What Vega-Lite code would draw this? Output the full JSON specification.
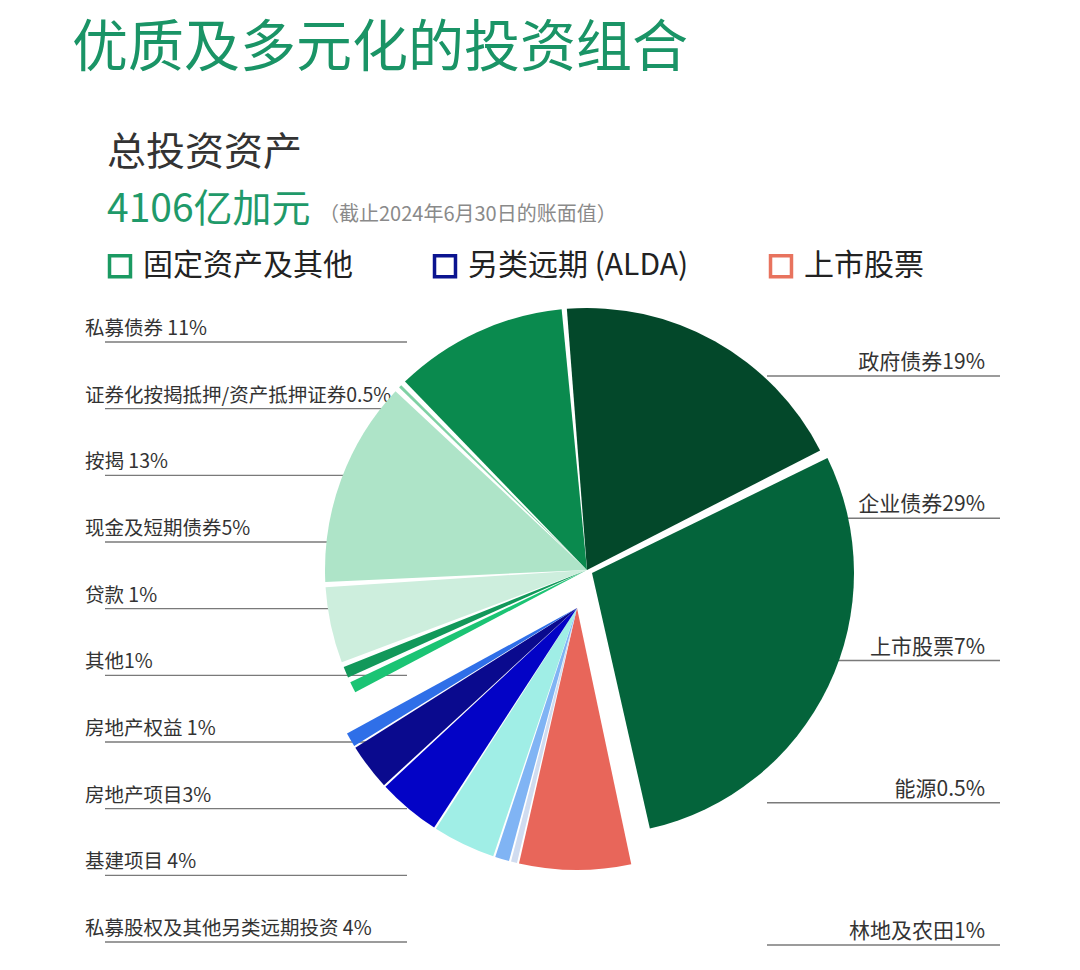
{
  "$schema": "https://vega.github.io/schema/vega-lite/v6.json",
  "background": "white",
  "padding": {"left": 72, "top": 21, "right": 5, "bottom": 5},
  "config": {"font": "Noto Sans CJK SC", "view": {"stroke": null}},
  "title": {
    "text": "优质及多元化的投资组合",
    "anchor": "start",
    "dx": -13,
    "color": "#1a9466",
    "fontSize": 56,
    "fontWeight": "normal",
    "offset": 56
  },
  "vconcat": [
    {
      "title": {
        "text": "总投资资产",
        "subtitle": "4106亿加元",
        "anchor": "start",
        "dx": 22,
        "color": "#333333",
        "fontSize": 39,
        "fontWeight": "normal",
        "subtitleColor": "#1f9a6a",
        "subtitleFontSize": 39,
        "subtitleFontWeight": "normal",
        "subtitlePadding": 18,
        "offset": -25
      },
      "vconcat": [
        {
          "width": 964,
          "height": 638,
          "title": {
            "text": "（截止2024年6月30日的账面值）",
            "anchor": "start",
            "dx": 234,
            "color": "#8a8a8a",
            "fontSize": 20,
            "fontWeight": "normal",
            "offset": 26
          },
          "data": {
            "values": [
              {"idx": 1, "name": "政府债券", "label": "政府债券19%", "value": 19, "group": "固定资产及其他"},
              {"idx": 2, "name": "企业债券", "label": "企业债券29%", "value": 29, "group": "固定资产及其他"},
              {"idx": 3, "name": "上市股票", "label": "上市股票7%", "value": 7, "group": "上市股票"},
              {"idx": 4, "name": "能源", "label": "能源0.5%", "value": 0.5, "group": "另类远期 (ALDA)"},
              {"idx": 5, "name": "林地及农田", "label": "林地及农田1%", "value": 1, "group": "另类远期 (ALDA)"},
              {"idx": 6, "name": "私募股权及其他另类远期投资", "label": "私募股权及其他另类远期投资 4%", "value": 4, "group": "另类远期 (ALDA)"},
              {"idx": 7, "name": "基建项目", "label": "基建项目 4%", "value": 4, "group": "另类远期 (ALDA)"},
              {"idx": 8, "name": "房地产项目", "label": "房地产项目3%", "value": 3, "group": "另类远期 (ALDA)"},
              {"idx": 9, "name": "房地产权益", "label": "房地产权益 1%", "value": 1, "group": "另类远期 (ALDA)"},
              {"idx": 10, "name": "其他", "label": "其他1%", "value": 1, "group": "固定资产及其他"},
              {"idx": 11, "name": "贷款", "label": "贷款 1%", "value": 1, "group": "固定资产及其他"},
              {"idx": 12, "name": "现金及短期债券", "label": "现金及短期债券5%", "value": 5, "group": "固定资产及其他"},
              {"idx": 13, "name": "按揭", "label": "按揭 13%", "value": 13, "group": "固定资产及其他"},
              {"idx": 14, "name": "证券化按揭抵押/资产抵押证券", "label": "证券化按揭抵押/资产抵押证券0.5%", "value": 0.5, "group": "固定资产及其他"},
              {"idx": 15, "name": "私募债券", "label": "私募债券 11%", "value": 11, "group": "固定资产及其他"}
            ]
          },
          "transform": [
            {"stack": "value", "groupby": [], "sort": [{"field": "idx", "order": "ascending"}], "as": ["v0", "v1"]}
          ],
          "layer": [
            {
              "transform": [{"filter": "datum.idx >= 6"}],
              "layer": [
                {
                  "mark": {"type": "rule", "x": 0, "x2": {"expr": "width/2 - 180"}, "color": "#7a7a7a", "strokeWidth": 1.3},
                  "encoding": {
                    "y": {"field": "idx", "type": "ordinal", "sort": "descending", "scale": {"type": "point", "range": [91, 691], "padding": 0}, "axis": null}
                  }
                },
                {
                  "mark": {"type": "text", "x": 0, "dx": -20, "align": "left", "baseline": "bottom", "dy": -3, "fontSize": 19.5, "color": "#333333"},
                  "encoding": {
                    "y": {"field": "idx", "type": "ordinal", "sort": "descending", "scale": {"type": "point", "range": [91, 691], "padding": 0}, "axis": null},
                    "text": {"field": "label"}
                  }
                }
              ]
            },
            {
              "transform": [{"filter": "datum.idx <= 5"}],
              "layer": [
                {
                  "mark": {"type": "rule", "x": {"expr": "width/2 + 180"}, "x2": {"expr": "width - 69"}, "color": "#7a7a7a", "strokeWidth": 1.3},
                  "encoding": {
                    "y": {"field": "idx", "type": "ordinal", "sort": "ascending", "scale": {"type": "point", "range": [125, 694], "padding": 0}, "axis": null}
                  }
                },
                {
                  "mark": {"type": "text", "x": "width", "dx": -84, "align": "right", "baseline": "bottom", "dy": -3, "fontSize": 21, "color": "#333333"},
                  "encoding": {
                    "y": {"field": "idx", "type": "ordinal", "sort": "ascending", "scale": {"type": "point", "range": [125, 694], "padding": 0}, "axis": null},
                    "text": {"field": "label"}
                  }
                }
              ]
            },
            {
              "transform": [{"filter": "datum.group === '固定资产及其他' && datum.idx !== 2"}],
              "mark": {"type": "arc", "outerRadius": 262, "padAngle": 0.02, "strokeOpacity": 0},
              "encoding": {
                "theta": {"field": "v0", "type": "quantitative", "scale": {"domain": [0, 100], "range": [-0.087, 6.1962]}},
                "theta2": {"field": "v1"},
                "fill": {"field": "name", "type": "nominal", "legend": null,
                  "scale": {
                    "domain": ["政府债券", "企业债券", "上市股票", "能源", "林地及农田", "私募股权及其他另类远期投资", "基建项目", "房地产项目", "房地产权益", "其他", "贷款", "现金及短期债券", "按揭", "证券化按揭抵押/资产抵押证券", "私募债券"],
                    "range": ["#03482a", "#04643b", "#e8665a", "#d0dcf0", "#80b4f4", "#a0eee6", "#0303c6", "#0a0a8e", "#2f6fe8", "#1bc474", "#12985a", "#cdeedd", "#aee4c8", "#7fd1a4", "#0a8a4e"]
                  }
                },
                "stroke": {"field": "group", "type": "nominal",
                  "scale": {"domain": ["固定资产及其他", "另类远期 (ALDA)", "上市股票"], "range": ["#1b9a62", "#0b1490", "#e8735e"]},
                  "legend": {
                    "orient": "top-left", "direction": "horizontal", "title": null, "offset": 0,
                    "symbolType": "square", "symbolSize": 440, "symbolStrokeWidth": 3.5, "symbolFillColor": "white",
                    "labelFontSize": 30, "labelColor": "#222222", "labelOffset": 8, "labelLimit": 400, "columnPadding": 74,
                    "encode": {"symbols": {"update": {"strokeOpacity": {"value": 1}, "fill": {"value": "white"}, "opacity": {"value": 1}, "strokeWidth": {"value": 3.5}}}}
                  }
                }
              }
            },
            {
              "transform": [{"filter": "datum.idx === 2"}],
              "mark": {"type": "arc", "outerRadius": 262, "padAngle": 0.02, "strokeOpacity": 0, "xOffset": 5, "yOffset": 3},
              "encoding": {
                "theta": {"field": "v0", "type": "quantitative"},
                "theta2": {"field": "v1"},
                "fill": {"field": "name", "type": "nominal", "legend": null},
                "stroke": {"field": "group", "type": "nominal"}
              }
            },
            {
              "transform": [{"filter": "datum.group !== '固定资产及其他'"}],
              "mark": {"type": "arc", "outerRadius": 262, "padAngle": 0.008, "strokeOpacity": 0, "xOffset": -10, "yOffset": 38},
              "encoding": {
                "theta": {"field": "v0", "type": "quantitative"},
                "theta2": {"field": "v1"},
                "fill": {"field": "name", "type": "nominal", "legend": null},
                "stroke": {"field": "group", "type": "nominal"}
              }
            }
          ],
          "resolve": {"scale": {"y": "independent"}}
        }
      ]
    }
  ]
}
